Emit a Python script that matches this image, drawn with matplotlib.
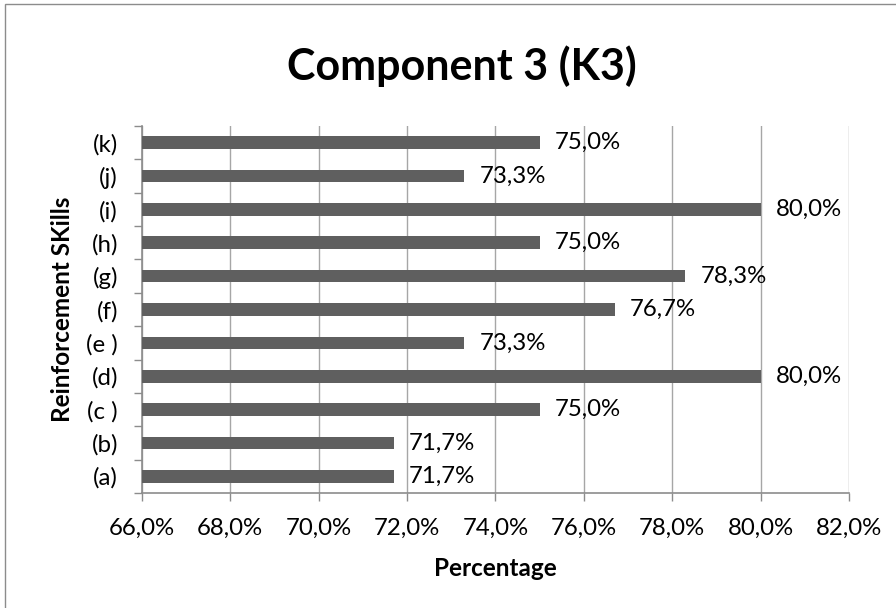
import matplotlib
matplotlib.use("Agg")
import matplotlib.pyplot as plt
from matplotlib.patches import Rectangle

# Skill categories (bottom to top) and their scores in percent
categories = ["(a)", "(b)", "(c )", "(d)", "(e )", "(f)", "(g)", "(h)", "(i)", "(j)", "(k)"]
scores = [71.7, 71.7, 75.0, 80.0, 73.3, 76.7, 78.3, 75.0, 80.0, 73.3, 75.0]
x_ticks = [66, 68, 70, 72, 74, 76, 78, 80, 82]

title = "Component 3 (K3)"
x_label = "Percentage"
y_label = "Reinforcement SKills"

plt.rcParams["font.family"] = ["Lato", "DejaVu Sans"]

W, H = 896, 608
fig = plt.figure(figsize=(W / 100, H / 100), dpi=100)
fig.patch.set_facecolor("white")

left, right, top, bottom = 141.7, 849.0, 126.0, 493.0
ax = fig.add_axes([left / W, 1 - bottom / H, (right - left) / W, (bottom - top) / H])

axis_grey = "#8c8c8c"
bar_grey = "#5f5f5f"
fs = 17.3

y = list(range(len(categories)))
ax.barh(y, [s - x_ticks[0] for s in scores], left=x_ticks[0], height=0.38,
        color=bar_grey, zorder=3)

for yi, s in zip(y, scores):
    ax.annotate(f"{s:.1f}%".replace(".", ","), xy=(s, yi), xytext=(15, 0),
                textcoords="offset pixels", va="center", ha="left",
                fontsize=fs, color="black", zorder=4)

ax.set_xlim(x_ticks[0], x_ticks[-1])
ax.set_ylim(-0.5, len(categories) - 0.5)

ax.set_xticks(x_ticks)
ax.set_xticklabels([f"{t:.1f}%".replace(".", ",") for t in x_ticks], fontsize=fs)
ax.tick_params(axis="x", direction="out", length=5.8, width=1.0, color=axis_grey, pad=12)

# category boundaries carry the tick marks, centres carry the labels
ax.set_yticks([i - 0.5 for i in range(len(categories) + 1)])
ax.set_yticklabels([])
ax.set_yticks(y, minor=True)
ax.set_yticklabels(categories, minor=True, fontsize=fs)
ax.tick_params(axis="y", which="major", direction="out", length=5.8, width=1.0, color=axis_grey)
ax.tick_params(axis="y", which="minor", length=0, pad=17)

ax.grid(axis="x", color="#a6a6a6", linewidth=1.0, zorder=0)
ax.set_axisbelow(True)

for side in ("top", "right"):
    ax.spines[side].set_visible(False)
for side in ("left", "bottom"):
    ax.spines[side].set_color(axis_grey)
    ax.spines[side].set_linewidth(1.2)

fig.text(462 / W, 1 - 66 / H, title, ha="center", va="center",
         fontsize=31, fontweight="bold")
fig.text((left + right) / 2 / W, 1 - 569 / H, x_label, ha="center", va="center",
         fontsize=17.5, fontweight="bold")
fig.text(62 / W, 1 - (top + bottom) / 2 / H, y_label, ha="center", va="center",
         rotation=90, fontsize=17.5, fontweight="bold")

# chart frame
fig.add_artist(Rectangle((4.5 / W, -0.1), 1.2, (H - 4.5) / H + 0.1,
                         transform=fig.transFigure, fill=False,
                         edgecolor="#8c8c8c", linewidth=1.0))

fig.savefig("out.png", dpi=100)
